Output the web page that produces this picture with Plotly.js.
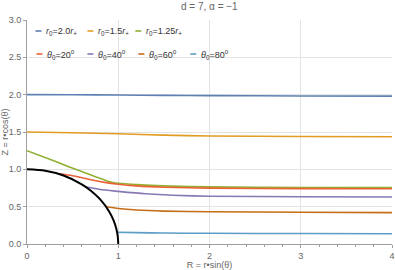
<!DOCTYPE html>
<html>
<head>
<meta charset="utf-8">
<script src="https://cdn.plot.ly/plotly-3.0.1.min.js"></script>
<style>html,body{margin:0;padding:0;background:#fff}#chart{width:395px;height:270px}</style>
</head>
<body>
<div id="chart"></div>
<script>
// Series names
var names = ["<i>r</i><sub>0</sub>=2.0<i>r</i><sub>+</sub>", "<i>r</i><sub>0</sub>=1.5<i>r</i><sub>+</sub>", "<i>r</i><sub>0</sub>=1.25<i>r</i><sub>+</sub>",
             "<i>θ</i><sub>0</sub>=20<sup>o</sup>", "<i>θ</i><sub>0</sub>=40<sup>o</sup>", "<i>θ</i><sub>0</sub>=60<sup>o</sup>", "<i>θ</i><sub>0</sub>=80<sup>o</sup>"];
var colors = ["#5E81B5", "#E19C24", "#8FB032", "#EB6235", "#8778B3", "#C56E1A", "#5D9EC7"];

// Trajectories (R, Z)
var r20_R = [0, 0.5, 1.0, 1.5, 2.0, 3.0, 4.0];
var r20_Z = [2.0, 1.998, 1.995, 1.99, 1.987, 1.983, 1.98];
var r15_R = [0, 0.5, 1.0, 1.5, 2.0, 3.0, 4.0];
var r15_Z = [1.5, 1.49, 1.476, 1.458, 1.447, 1.44, 1.437];
var r125_R = [0, 0.3, 0.6, 0.93, 1.0, 1.2, 1.5, 2.0, 3.0, 4.0];
var r125_Z = [1.25, 1.11, 0.97, 0.825, 0.813, 0.795, 0.778, 0.765, 0.757, 0.755];
var t20_R = [0.342, 0.5, 0.7, 0.85, 1.0, 1.2, 1.5, 2.0, 3.0, 4.0];
var t20_Z = [0.94, 0.915, 0.86, 0.825, 0.80, 0.778, 0.76, 0.748, 0.742, 0.74];
var t40_R = [0.643, 0.8, 1.0, 1.3, 1.6, 2.0, 3.0, 4.0];
var t40_Z = [0.766, 0.73, 0.705, 0.672, 0.652, 0.64, 0.633, 0.63];
var t60_R = [0.866, 0.95, 1.0, 1.2, 1.5, 2.0, 3.0, 4.0];
var t60_Z = [0.5, 0.485, 0.476, 0.455, 0.44, 0.432, 0.425, 0.42];
var t80_R = [0.985, 1.2, 1.5, 2.0, 3.0, 4.0];
var t80_Z = [0.158, 0.152, 0.147, 0.143, 0.14, 0.138];

// Horizon (unit quarter circle)
var hor_R = [0, 0.2, 0.4, 0.6, 0.7, 0.8, 0.9, 0.95, 0.98, 0.995, 1.0];
var hor_Z = [1.0, 0.98, 0.917, 0.8, 0.714, 0.6, 0.436, 0.312, 0.199, 0.1, 0.0];

// Tick labels
var xTicks = [0, 1, 2, 3, 4];
var yTicks = [0.0, 0.5, 1.0, 1.5, 2.0, 2.5, 3.0];
var yTickText = ["0.0", "0.5", "1.0", "1.5", "2.0", "2.5", "3.0"];

var series = [[r20_R, r20_Z], [r15_R, r15_Z], [r125_R, r125_Z], [t20_R, t20_Z], [t40_R, t40_Z], [t60_R, t60_Z], [t80_R, t80_Z]];
var traces = [];
series.forEach(function (s, i) {
  traces.push({
    x: s[0], y: s[1], name: names[i], mode: "lines", type: "scatter",
    line: {color: colors[i], width: 1.6, shape: "spline", smoothing: 0.6},
    showlegend: false, hoverinfo: "skip"
  });
});
traces.push({x: hor_R, y: hor_Z, mode: "lines", type: "scatter", showlegend: false,
  line: {color: "#000", width: 2, shape: "spline", smoothing: 0.8}, hoverinfo: "skip"});

// Compact in-plot legend (Mathematica style): swatch + label, two rows
var W = 395, H = 270, ml = 26.5, mr = 3, mt = 20, mb = 26;
var pw = W - ml - mr, ph = H - mt - mb;
var legendPos = [[35, 31], [87, 31], [135, 31], [36, 54], [87, 54], [138, 54], [190, 54]];
var shapes = [], annotations = [];
legendPos.forEach(function (p, i) {
  var x0 = (p[0] - ml) / pw, x1 = (p[0] + 6 - ml) / pw, yy = (H - mb - p[1]) / ph;
  shapes.push({type: "line", xref: "paper", yref: "paper", x0: x0, x1: x1, y0: yy, y1: yy,
               line: {color: colors[i], width: 1.6}});
  annotations.push({xref: "paper", yref: "paper", x: (p[0] + 9 - ml) / pw, y: yy, xanchor: "left", yanchor: "middle",
                    text: names[i], showarrow: false,
                    font: {family: "Liberation Sans, Arial, sans-serif", size: 9, color: "#333"}});
});

var axisCommon = {
  showline: true, linecolor: "#a0a0a0", linewidth: 1,
  gridcolor: "#e3e3e3", gridwidth: 1, zeroline: false,
  ticks: "outside", ticklen: 3, tickcolor: "#a0a0a0", tickwidth: 1,
  tickfont: {family: "Liberation Sans, Arial, sans-serif", size: 9, color: "#666"},
  mirror: false
};

var layout = {
  width: W, height: H,
  margin: {l: ml, r: mr, t: mt, b: mb},
  paper_bgcolor: "#fff", plot_bgcolor: "#fff",
  title: {text: "d = 7, α = −1", font: {family: "Liberation Sans, Arial, sans-serif", size: 10, color: "#666"},
          x: 0.53, xanchor: "center", y: 0.975, yanchor: "middle"},
  xaxis: Object.assign({}, axisCommon, {
    range: [0, 4], tickvals: xTicks, ticktext: xTicks.map(String),
    minor: {dtick: 0.2, ticklen: 1.5, tickcolor: "#a0a0a0", ticks: "outside", showgrid: false},
    title: {text: "R = r•sin(θ)", font: {family: "Liberation Sans, Arial, sans-serif", size: 9, color: "#666"}, standoff: 4}
  }),
  yaxis: Object.assign({}, axisCommon, {
    range: [0, 3], tickvals: yTicks, ticktext: yTickText,
    title: {text: "Z = r•cos(θ)", font: {family: "Liberation Sans, Arial, sans-serif", size: 9, color: "#666"}, standoff: 3}
  }),
  shapes: shapes,
  annotations: annotations,
  showlegend: false
};

Plotly.newPlot("chart", traces, layout, {staticPlot: true, displayModeBar: false});
</script>
</body>
</html>
